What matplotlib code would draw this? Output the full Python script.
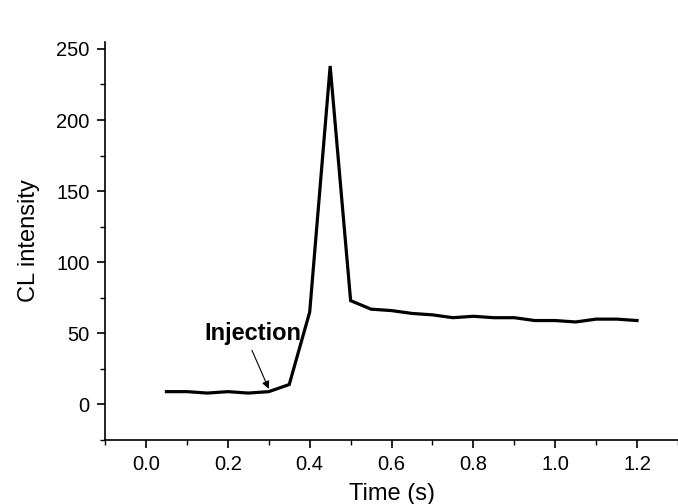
import matplotlib
matplotlib.use("Agg")
import matplotlib.pyplot as plt
from matplotlib.ticker import MultipleLocator

time_s = [0.05, 0.10, 0.15, 0.20, 0.25, 0.30, 0.35, 0.40, 0.45, 0.50, 0.55, 0.60,
          0.65, 0.70, 0.75, 0.80, 0.85, 0.90, 0.95, 1.00, 1.05, 1.10, 1.15, 1.20]
cl_intensity = [9, 9, 8, 9, 8, 9, 14, 65, 238, 73, 67, 66,
                64, 63, 61, 62, 61, 61, 59, 59, 58, 60, 60, 59]
xticks = [0.0, 0.2, 0.4, 0.6, 0.8, 1.0, 1.2]
yticks = [0, 50, 100, 150, 200, 250]

plt.rcParams['font.family'] = ['Liberation Sans', 'DejaVu Sans']
fig = plt.figure(figsize=(6.78, 5.04), dpi=100)
ax = fig.add_axes([0.155, 0.127, 0.845, 0.79])
ax.plot(time_s, cl_intensity, color='black', lw=2.3, solid_joinstyle='miter')
ax.set_xlim(-0.1, 1.3)
ax.set_ylim(-25, 255)
ax.set_xticks(xticks)
ax.set_xticklabels([f"{v:.1f}" for v in xticks])
ax.set_yticks(yticks)
ax.xaxis.set_minor_locator(MultipleLocator(0.1))
ax.yaxis.set_minor_locator(MultipleLocator(25))
ax.spines['top'].set_visible(False)
ax.spines['right'].set_visible(False)
for s in ['left', 'bottom']:
    ax.spines[s].set_linewidth(1.2)
ax.tick_params(which='major', direction='out', length=6, width=1.2, labelsize=14.5, pad=5)
ax.tick_params(which='minor', direction='out', length=3.5, width=1.0)
ax.set_xlabel('Time (s)', fontsize=17, labelpad=6)
ax.set_ylabel('CL intensity', fontsize=17, labelpad=12)

ax.text(0.262, 50, 'Injection', fontsize=17, fontweight='bold', ha='center', va='center')
ax.annotate('', xy=(0.30, 11), xytext=(0.259, 38),
            arrowprops=dict(arrowstyle='-|>', color='black', lw=0.8,
                            shrinkA=0, shrinkB=0, mutation_scale=11))

fig.savefig('out.png', dpi=100)
